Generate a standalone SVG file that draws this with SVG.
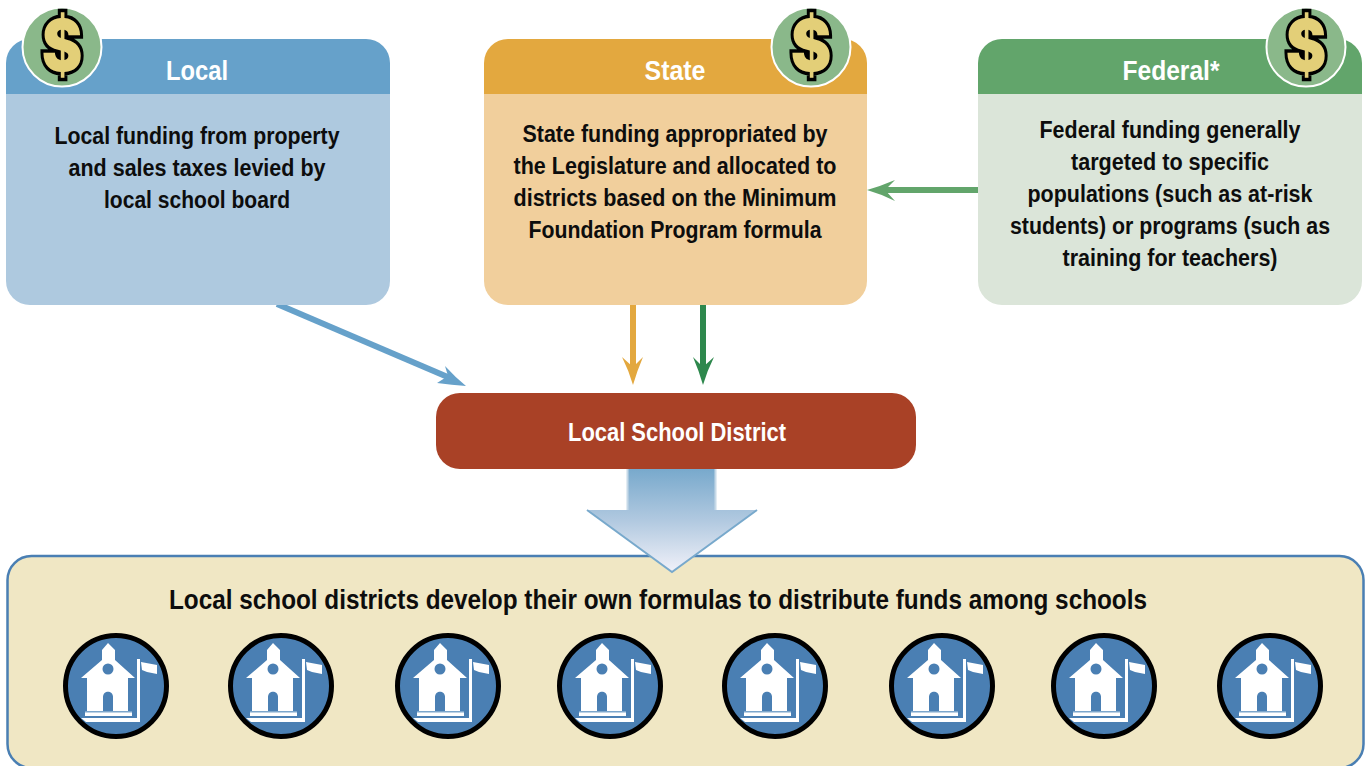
<svg xmlns="http://www.w3.org/2000/svg" width="1366" height="766" viewBox="0 0 1366 766">
<style>
text{font-family:"Liberation Sans",Arial,sans-serif;font-weight:bold;text-anchor:middle}
.b{font-size:23px;fill:#0d0d0d}
.h{font-size:27px;fill:#fff}
.d{font-family:Inter,sans-serif;font-weight:900;font-size:71px;fill:#e3cf78;stroke:#000;stroke-width:7;paint-order:stroke;stroke-linejoin:miter}
</style>
<defs>
<linearGradient id="ag" x1="0" y1="0" x2="0" y2="1"><stop offset="0" stop-color="#78a9cc"/><stop offset="0.5" stop-color="#b1c9e0"/><stop offset="1" stop-color="#f1f1f9"/></linearGradient>
<g id="badge"><circle r="39.500" fill="#8ab88a" stroke="#fff" stroke-width="2"/></g>
<g id="school">
<circle r="50.500" fill="#4a7fb3" stroke="#000" stroke-width="5"/>
<path fill="#fff" d="M-35-8L-14-26V-36L-8-43L-1-36V-26L19-8H12V26H-29V-8Z"/>
<circle cx="-8" cy="-17" r="5.500" fill="#4a7fb3"/>
<path fill="#4a7fb3" d="M-13 25V11C-13 4-3 4-3 11V25Z"/>
<rect x="-31" y="26" width="47" height="4" fill="#fff"/>
<rect x="-31" y="25" width="47" height="1.500" fill="#7ca6cc"/>
<path fill="#fff" d="M-35 32H21V-27H24V36H-30Z"/>
<path fill="#fff" d="M25-24L41-21V-12L31-14L26-16Z"/>
</g>
</defs>

<g id="connectors">
<g id="c-local"><line x1="277" y1="304" x2="450" y2="378" stroke="#66a1ca" stroke-width="6"/><path d="M466 386Q452 385 437 383L448 376L445 366Q455 377 466 386Z" fill="#66a1ca"/></g>
<g id="c-state"><rect x="630" y="304" width="6" height="64" fill="#e3a83f"/><path d="M633 385Q629 371 622 357L633 367L643 357Q637 371 633 385Z" fill="#e3a83f"/></g>
<g id="c-fed"><rect x="700" y="304" width="6" height="64" fill="#2e884d"/><path d="M703 385Q699 371 693 357L703 367L714 357Q707 371 703 385Z" fill="#2e884d"/></g>
<g id="c-fed2"><rect x="885" y="187" width="94" height="6" fill="#62a56b"/><path d="M867 190Q881 186 895 180L885 190L895 201Q881 194 867 190Z" fill="#62a56b"/></g>
</g>

<g id="node-bottom">
<rect x="7.500" y="556" width="1356" height="212" rx="24" fill="#f0e7c4" stroke="#4a7fb3" stroke-width="2.500"/>
<text class="b" x="658" y="609" style="font-size:27px" textLength="978" lengthAdjust="spacingAndGlyphs">Local school districts develop their own formulas to distribute funds among schools</text>
<use href="#school" x="116" y="686"/>
<use href="#school" x="281" y="686"/>
<use href="#school" x="448" y="686"/>
<use href="#school" x="610" y="686"/>
<use href="#school" x="775" y="686"/>
<use href="#school" x="942" y="686"/>
<use href="#school" x="1104" y="686"/>
<use href="#school" x="1270" y="686"/>
</g>

<g id="node-local">
<path d="M6 94V63A24 24 0 0 1 30 39H366A24 24 0 0 1 390 63V94Z" fill="#66a1ca"/>
<path d="M6 94H390V281A24 24 0 0 1 366 305H30A24 24 0 0 1 6 281Z" fill="#aec9df"/>
<text class="h" x="197" y="80" textLength="62" lengthAdjust="spacingAndGlyphs">Local</text>
<text class="b" x="197" y="144" textLength="285" lengthAdjust="spacingAndGlyphs">Local funding from property</text>
<text class="b" x="197" y="176" textLength="257" lengthAdjust="spacingAndGlyphs">and sales taxes levied by</text>
<text class="b" x="197" y="208" textLength="186" lengthAdjust="spacingAndGlyphs">local school board</text>
<use href="#badge" x="62" y="47"/><text class="d" transform="translate(62 71) scale(.86 1)">$</text>
</g>

<g id="node-state">
<path d="M484 94V63A24 24 0 0 1 508 39H843A24 24 0 0 1 867 63V94Z" fill="#e3a83f"/>
<path d="M484 94H867V281A24 24 0 0 1 843 305H508A24 24 0 0 1 484 281Z" fill="#f1cf9c"/>
<text class="h" x="675" y="80" textLength="61" lengthAdjust="spacingAndGlyphs">State</text>
<text class="b" x="675" y="142" textLength="305" lengthAdjust="spacingAndGlyphs">State funding appropriated by</text>
<text class="b" x="675" y="174" textLength="323" lengthAdjust="spacingAndGlyphs">the Legislature and allocated to</text>
<text class="b" x="675" y="206" textLength="323" lengthAdjust="spacingAndGlyphs">districts based on the Minimum</text>
<text class="b" x="675" y="238" textLength="293" lengthAdjust="spacingAndGlyphs">Foundation Program formula</text>
<use href="#badge" x="811" y="47"/><text class="d" transform="translate(811 71) scale(.86 1)">$</text>
</g>

<g id="node-federal">
<path d="M978 94V63A24 24 0 0 1 1002 39H1338A24 24 0 0 1 1362 63V94Z" fill="#62a56b"/>
<path d="M978 94H1362V281A24 24 0 0 1 1338 305H1002A24 24 0 0 1 978 281Z" fill="#dbe5d9"/>
<text class="h" x="1171" y="80" textLength="97" lengthAdjust="spacingAndGlyphs">Federal*</text>
<text class="b" x="1170" y="138" textLength="261" lengthAdjust="spacingAndGlyphs">Federal funding generally</text>
<text class="b" x="1170" y="170" textLength="198" lengthAdjust="spacingAndGlyphs">targeted to specific</text>
<text class="b" x="1170" y="202" textLength="285" lengthAdjust="spacingAndGlyphs">populations (such as at-risk</text>
<text class="b" x="1170" y="234" textLength="320" lengthAdjust="spacingAndGlyphs">students) or programs (such as</text>
<text class="b" x="1170" y="266" textLength="215" lengthAdjust="spacingAndGlyphs">training for teachers)</text>
<use href="#badge" x="1306" y="47"/><text class="d" transform="translate(1306 71) scale(.86 1)">$</text>
</g>

<g id="node-district">
<rect x="436" y="393" width="480" height="76" rx="24" fill="#a94126"/>
<text class="h" x="677" y="441" style="font-size:25px" textLength="218" lengthAdjust="spacingAndGlyphs">Local School District</text>
</g>

<g id="arrow-big">
<path d="M627 469H716V510H757L672 572L587 510H627Z" fill="url(#ag)"/>
<path d="M587 510L672 572L757 510" fill="none" stroke="#78a9cc" stroke-width="2"/>
<path d="M627.500 469V510M715.500 469V510" stroke="#c6d9e8" stroke-width="2"/>
</g>
</svg>
